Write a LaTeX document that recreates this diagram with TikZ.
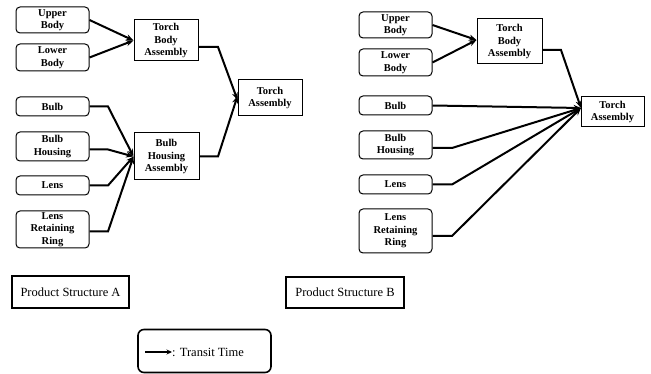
\documentclass[tikz,border=0pt]{standalone}
\usepackage{fontspec}
\setmainfont{Liberation Serif}
\usetikzlibrary{arrows.meta}
\begin{document}
\begin{tikzpicture}[x=1pt,y=-1pt,
  part/.style={draw, rounded corners=4pt, line width=1pt, inner sep=0pt, align=center,
    font=\fontsize{10.5}{12.5}\selectfont\bfseries},
  asm/.style={draw, line width=1pt, inner sep=0pt, align=center,
    font=\fontsize{10.5}{12.5}\selectfont\bfseries},
  title/.style={draw, line width=1.6pt, inner sep=0pt, font=\fontsize{12.5}{14}\selectfont},
  link/.style={line width=2pt, -{Stealth[length=7.5pt,width=6pt]}}]
\useasboundingbox (0,0) rectangle (651,374);
% ---------- Product structure A ----------
\node[part, minimum width=73, minimum height=26] (ubA) at (52.5,20) {Upper\\Body};
\node[part, minimum width=73, minimum height=27] (lbA) at (52.5,57.5) {Lower\\Body};
\node[asm, minimum width=64, minimum height=41] (tbaA) at (166,40.5) {Torch\\Body\\Assembly};
\node[asm, minimum width=64, minimum height=36] (taA) at (270,98) {Torch\\Assembly};
\node[part, minimum width=73, minimum height=19] (bA) at (52.5,106.5) {Bulb};
\node[part, minimum width=73, minimum height=29] (bhA) at (52.5,146.5) {Bulb\\Housing};
\node[asm, minimum width=65, minimum height=47] (bhaA) at (166.5,156.5) {Bulb\\Housing\\Assembly};
\node[part, minimum width=73, minimum height=19] (lA) at (52.5,185.5) {Lens};
\node[part, minimum width=73, minimum height=37] (lrA) at (52.5,229.5) {Lens\\Retaining\\Ring};
\coordinate (kA) at (108,0);
\coordinate (mA) at (218,0);
\draw[link] (ubA.east) -- (tbaA.west);
\draw[link] (lbA.east) -- (tbaA.west);
\draw[link] ([yshift=-6.5]tbaA.east) -- ([yshift=-6.5]tbaA.east -| mA) -- ([yshift=-2]taA.west);
\draw[link] (bhaA.east) -- (bhaA.east -| mA) -- ([yshift=2]taA.west);
\draw[link] (bA.east) -- (bA.east -| kA) -- (bhaA.west);
\draw[link] ([yshift=-3]bhA.east) -- ([yshift=-3]bhA.east -| kA) -- (bhaA.west);
\draw[link] (lA.east) -- (lA.east -| kA) -- (bhaA.west);
\draw[link] ([yshift=-2]lrA.east) -- ([yshift=-2]lrA.east -| kA) -- (bhaA.west);
% ---------- Product structure B ----------
\node[part, minimum width=73, minimum height=26] (ubB) at (395.5,25) {Upper\\Body};
\node[part, minimum width=73, minimum height=27] (lbB) at (395.5,62.5) {Lower\\Body};
\node[asm, minimum width=65, minimum height=45] (tbaB) at (509.5,41.5) {Torch\\Body\\Assembly};
\node[asm, minimum width=63, minimum height=30] (taB) at (612.5,112) {Torch\\Assembly};
\node[part, minimum width=73, minimum height=19] (bB) at (395.5,105.5) {Bulb};
\node[part, minimum width=73, minimum height=28] (bhB) at (395.5,145) {Bulb\\Housing};
\node[part, minimum width=73, minimum height=19] (lB) at (395.5,184.5) {Lens};
\node[part, minimum width=73, minimum height=44] (lrB) at (395.5,231) {Lens\\Retaining\\Ring};
\coordinate (kB) at (452,0);
\coordinate (mB) at (561,0);
\coordinate (tgB) at (581,108);
\draw[link] (ubB.east) -- ([yshift=1.5]tbaB.west);
\draw[link] (lbB.east) -- ([yshift=1.5]tbaB.west);
\draw[link] ([yshift=-8.5]tbaB.east) -- ([yshift=-8.5]tbaB.east -| mB) -- (tgB);
\draw[link] (bB.east) -- (tgB);
\draw[link] ([yshift=-3]bhB.east) -- ([yshift=-3]bhB.east -| kB) -- (tgB);
\draw[link] (lB.east) -- (lB.east -| kB) -- (tgB);
\draw[link] ([yshift=-5]lrB.east) -- ([yshift=-5]lrB.east -| kB) -- (tgB);
% ---------- Titles and legend ----------
\node[title, minimum width=117, minimum height=32] (tA) at (70.5,292) {Product Structure A};
\node[title, minimum width=118, minimum height=31] (tB) at (345,292.5) {Product Structure B};
\node[draw, line width=1.6pt, rounded corners=6pt, minimum width=133, minimum height=43, inner sep=0pt] (leg) at (204.5,351) {};
\coordinate (lg1) at (145,352);
\coordinate (lg2) at (172,352);
\draw[line width=1.5pt, -{Stealth[length=5.5pt,width=5pt]}] (lg1) -- (lg2);
\node[anchor=west, inner sep=0pt, font=\fontsize{12.5}{14}\selectfont] (lgt) at (172,352) {: Transit Time};
\end{tikzpicture}
\end{document}
